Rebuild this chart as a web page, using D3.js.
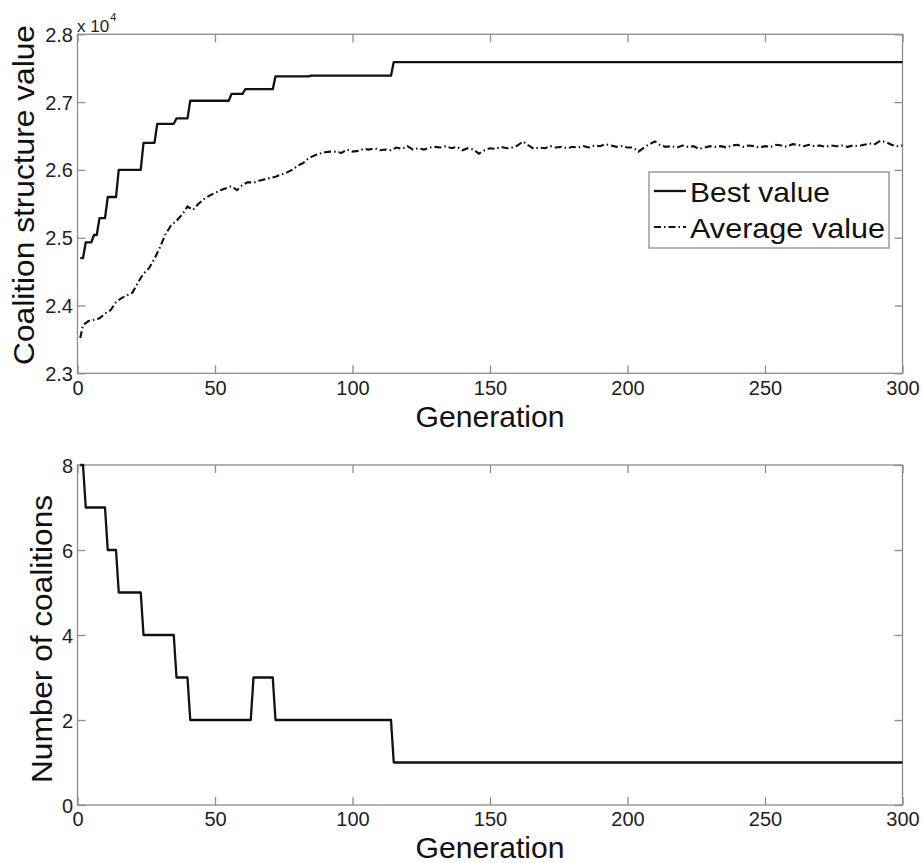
<!DOCTYPE html>
<html>
<head>
<meta charset="utf-8">
<script src="https://cdn.jsdelivr.net/npm/d3@7"></script>
<style>
  html, body { margin: 0; padding: 0; background: #fff; }
  svg { display: block; }
  text { font-family: "Liberation Sans", Arial, Helvetica, sans-serif; }
</style>
</head>
<body>
<svg id="chart" width="923" height="863"></svg>
<script>
// ---- data ----
// Best coalition structure value: generation at which each level is reached, and its value
const bestStepGen = [1, 3, 6, 8, 11, 15, 24, 29, 36, 41, 56, 61, 72, 85, 115];
const bestStepVal = [24700, 24930, 25040, 25290, 25600, 26000, 26400, 26680, 26760, 27020, 27120, 27190, 27380, 27390, 27590];

// Average coalition structure value of the population
const avgGen = [1, 2, 4, 6, 8, 10, 12, 14, 16, 18, 20, 22, 24, 26, 28, 30, 32, 34, 36, 38,
  40, 42, 44, 46, 48, 50, 52, 54, 56, 58, 60, 62, 64, 66, 68, 70, 72, 74, 76, 78,
  80, 82, 84, 86, 88, 90, 92, 94, 96, 98, 100, 102, 104, 106, 108, 110, 112, 114, 116, 118,
  120, 122, 124, 126, 128, 130, 132, 134, 136, 138, 140, 142, 144, 146, 148, 150, 152, 154, 156, 158,
  160, 162, 164, 166, 168, 170, 172, 174, 176, 178, 180, 182, 184, 186, 188, 190, 192, 194, 196, 198,
  200, 202, 204, 206, 208, 210, 212, 214, 216, 218, 220, 222, 224, 226, 228, 230, 232, 234, 236, 238,
  240, 242, 244, 246, 248, 250, 252, 254, 256, 258, 260, 262, 264, 266, 268, 270, 272, 274, 276, 278,
  280, 282, 284, 286, 288, 290, 292, 294, 296, 298, 300];
const avgVal = [23520, 23710, 23770, 23790, 23810, 23880, 23930, 24050, 24110, 24150, 24190, 24340, 24470, 24550, 24690, 24860, 25050, 25180, 25250, 25340,
  25460, 25410, 25500, 25570, 25620, 25660, 25700, 25730, 25760, 25700, 25780, 25820, 25810, 25840, 25860, 25880, 25900, 25930, 25960, 26000,
  26060, 26100, 26170, 26210, 26240, 26260, 26270, 26270, 26250, 26300, 26270, 26280, 26310, 26300, 26320, 26290, 26300, 26290, 26330, 26310,
  26350, 26300, 26320, 26300, 26330, 26340, 26330, 26350, 26320, 26340, 26290, 26320, 26300, 26240, 26290, 26320, 26310, 26340, 26320, 26330,
  26360, 26420, 26360, 26310, 26330, 26320, 26350, 26330, 26340, 26320, 26340, 26330, 26350, 26330, 26360, 26350, 26380, 26360, 26340, 26350,
  26330, 26330, 26270, 26330, 26380, 26420, 26360, 26340, 26350, 26330, 26360, 26340, 26350, 26310, 26330, 26350, 26340, 26350, 26330, 26360,
  26370, 26340, 26360, 26350, 26330, 26350, 26340, 26370, 26360, 26340, 26380, 26370, 26350, 26370, 26350, 26360, 26340, 26360, 26350, 26360,
  26340, 26360, 26350, 26370, 26390, 26380, 26430, 26410, 26370, 26350, 26360];

// Number of coalitions: generation at which each count starts, and the count
const coalStepGen = [1, 3, 11, 15, 24, 36, 41, 64, 72, 115];
const coalStepVal = [8, 7, 6, 5, 4, 3, 2, 3, 2, 1];

const lastGen = 300;
const xTicks = [0, 50, 100, 150, 200, 250, 300];
const topYTicks = [23000, 24000, 25000, 26000, 27000, 28000];
const botYTicks = [0, 2, 4, 6, 8];
const legendLabels = ["Best value", "Average value"];

// ---- layout ----
const svg = d3.select("#chart");
const axisColor = "#8c8c8c";
const left = 77.5, right = 902.5;
const topPanel = { y0: 34.3, y1: 373.3 };
const botPanel = { y0: 465, y1: 805 };

const x = d3.scaleLinear().domain([0, 300]).range([left, right]);
const yTop = d3.scaleLinear().domain([23000, 28000]).range([topPanel.y1, topPanel.y0]);
const yBot = d3.scaleLinear().domain([0, 8]).range([botPanel.y1, botPanel.y0]);

// Turn (start generation, level) pairs into a per-generation step path
function stepPoints(gens, vals, endGen) {
  const pts = [];
  gens.forEach((g, i) => {
    const next = i + 1 < gens.length ? gens[i + 1] - 1 : endGen;
    pts.push([g, vals[i]]);
    if (next > g) pts.push([next, vals[i]]);
  });
  return pts;
}

function drawFrame(y, panel, yTicks, yFmt, labelPad) {
  const g = svg.append("g");
  // box
  g.append("rect")
    .attr("x", left).attr("y", panel.y0)
    .attr("width", right - left).attr("height", panel.y1 - panel.y0)
    .attr("fill", "none").attr("stroke", axisColor).attr("stroke-width", 1.3);

  const styleAxis = sel => {
    sel.select(".domain").remove();
    sel.selectAll(".tick line").attr("stroke", axisColor).attr("stroke-width", 1.3);
    sel.selectAll(".tick text").attr("fill", "#1e1e1e").attr("font-size", 20)
      .attr("font-family", "Liberation Sans, Arial, sans-serif");
  };

  const bottom = g.append("g").attr("transform", `translate(0,${panel.y1})`)
    .call(d3.axisBottom(x).tickValues(xTicks).tickSize(-8).tickFormat(d3.format("d")))
    .call(styleAxis);
  bottom.selectAll(".tick text").attr("y", labelPad).attr("dy", "0");

  g.append("g").attr("transform", `translate(0,${panel.y0})`)
    .call(d3.axisTop(x).tickValues(xTicks).tickSize(-8).tickFormat(""))
    .call(styleAxis);

  const leftAx = g.append("g").attr("transform", `translate(${left},0)`)
    .call(d3.axisLeft(y).tickValues(yTicks).tickSize(-8).tickFormat(yFmt))
    .call(styleAxis);
  leftAx.selectAll(".tick text").attr("x", -4.5).attr("dy", "0.35em");

  g.append("g").attr("transform", `translate(${right},0)`)
    .call(d3.axisRight(y).tickValues(yTicks).tickSize(-8).tickFormat(""))
    .call(styleAxis);
  return g;
}

// ---- top panel: coalition structure value ----
drawFrame(yTop, topPanel, topYTicks, d => d3.format(".1f")(d / 1e4), 22);

const line = yScale => d3.line().x(d => x(d[0])).y(d => yScale(d[1]));

const avgPts = avgGen.map((g, i) => [g, avgVal[i]]);
svg.append("path").datum(avgPts)
  .attr("d", line(yTop))
  .attr("fill", "none").attr("stroke", "#111").attr("stroke-width", 2.1)
  .attr("stroke-dasharray", "7,3,1.5,3");

svg.append("path").datum(stepPoints(bestStepGen, bestStepVal, lastGen))
  .attr("d", line(yTop))
  .attr("fill", "none").attr("stroke", "#111").attr("stroke-width", 2.3)
  .attr("stroke-linejoin", "round");

// exponent marker above the y axis
const expo = svg.append("text").attr("x", 77).attr("y", 31.5)
  .attr("font-size", 17).attr("fill", "#1e1e1e");
expo.append("tspan").text("x 10");
expo.append("tspan").attr("font-size", 11).attr("dy", -11).attr("dx", 1).text("4");

// axis titles
svg.append("text").attr("x", 490).attr("y", 427).attr("text-anchor", "middle")
  .attr("font-size", 29).attr("fill", "#111")
  .attr("textLength", 149).attr("lengthAdjust", "spacingAndGlyphs")
  .text("Generation");
svg.append("text").attr("transform", "translate(34,195) rotate(-90)")
  .attr("text-anchor", "middle").attr("font-size", 29).attr("fill", "#111")
  .attr("textLength", 340).attr("lengthAdjust", "spacingAndGlyphs")
  .text("Coalition structure value");

// legend
const lg = svg.append("g");
lg.append("rect").attr("x", 649).attr("y", 172).attr("width", 240).attr("height", 76)
  .attr("fill", "#fff").attr("stroke", axisColor).attr("stroke-width", 1.3);
const legendRows = [
  { label: legendLabels[0], base: 202, dash: null, len: 140 },
  { label: legendLabels[1], base: 238, dash: "7,3,1.5,3", len: 195 }
];
legendRows.forEach(r => {
  lg.append("line").attr("x1", 654).attr("x2", 686)
    .attr("y1", r.base - 11).attr("y2", r.base - 11)
    .attr("stroke", "#111").attr("stroke-width", r.dash ? 2.1 : 2.3)
    .attr("stroke-dasharray", r.dash);
  lg.append("text").attr("x", 690).attr("y", r.base)
    .attr("font-size", 28).attr("fill", "#111")
    .attr("textLength", r.len).attr("lengthAdjust", "spacingAndGlyphs")
    .text(r.label);
});

// ---- bottom panel: number of coalitions ----
drawFrame(yBot, botPanel, botYTicks, d3.format("d"), 21);

svg.append("path").datum(stepPoints(coalStepGen, coalStepVal, lastGen))
  .attr("d", line(yBot))
  .attr("fill", "none").attr("stroke", "#111").attr("stroke-width", 2.3)
  .attr("stroke-linejoin", "round");

svg.append("text").attr("x", 490).attr("y", 858).attr("text-anchor", "middle")
  .attr("font-size", 29).attr("fill", "#111")
  .attr("textLength", 149).attr("lengthAdjust", "spacingAndGlyphs")
  .text("Generation");
svg.append("text").attr("transform", "translate(52,639) rotate(-90)")
  .attr("text-anchor", "middle").attr("font-size", 29).attr("fill", "#111")
  .attr("textLength", 288).attr("lengthAdjust", "spacingAndGlyphs")
  .text("Number of coalitions");
</script>
</body>
</html>
